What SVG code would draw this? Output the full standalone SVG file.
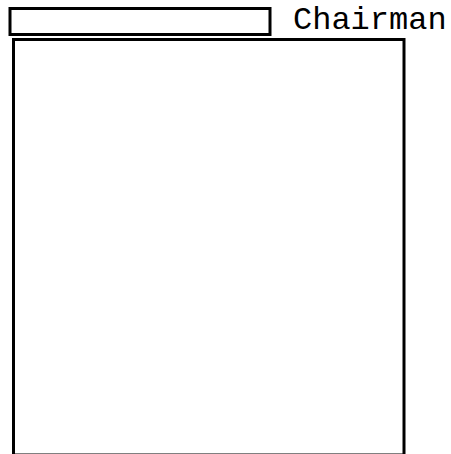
<svg xmlns="http://www.w3.org/2000/svg" width="451" height="454" viewBox="0 0 451 454">
<style>
.box{fill:#fff;stroke:#000;stroke-width:3}
.lbl{font-family:"Liberation Mono","Courier New",monospace;font-size:32px;fill:#000}
</style>
<rect width="451" height="454" fill="#fff"/>
<g id="body"><rect class="box" x="13.5" y="39.5" width="390.5" height="415.5"/></g>
<g id="title"><rect class="box" x="10" y="8.5" width="260" height="26"/></g>
<g id="label"><text class="lbl" x="293" y="29">Chairman</text></g>
<g id="connectors"/>
</svg>
